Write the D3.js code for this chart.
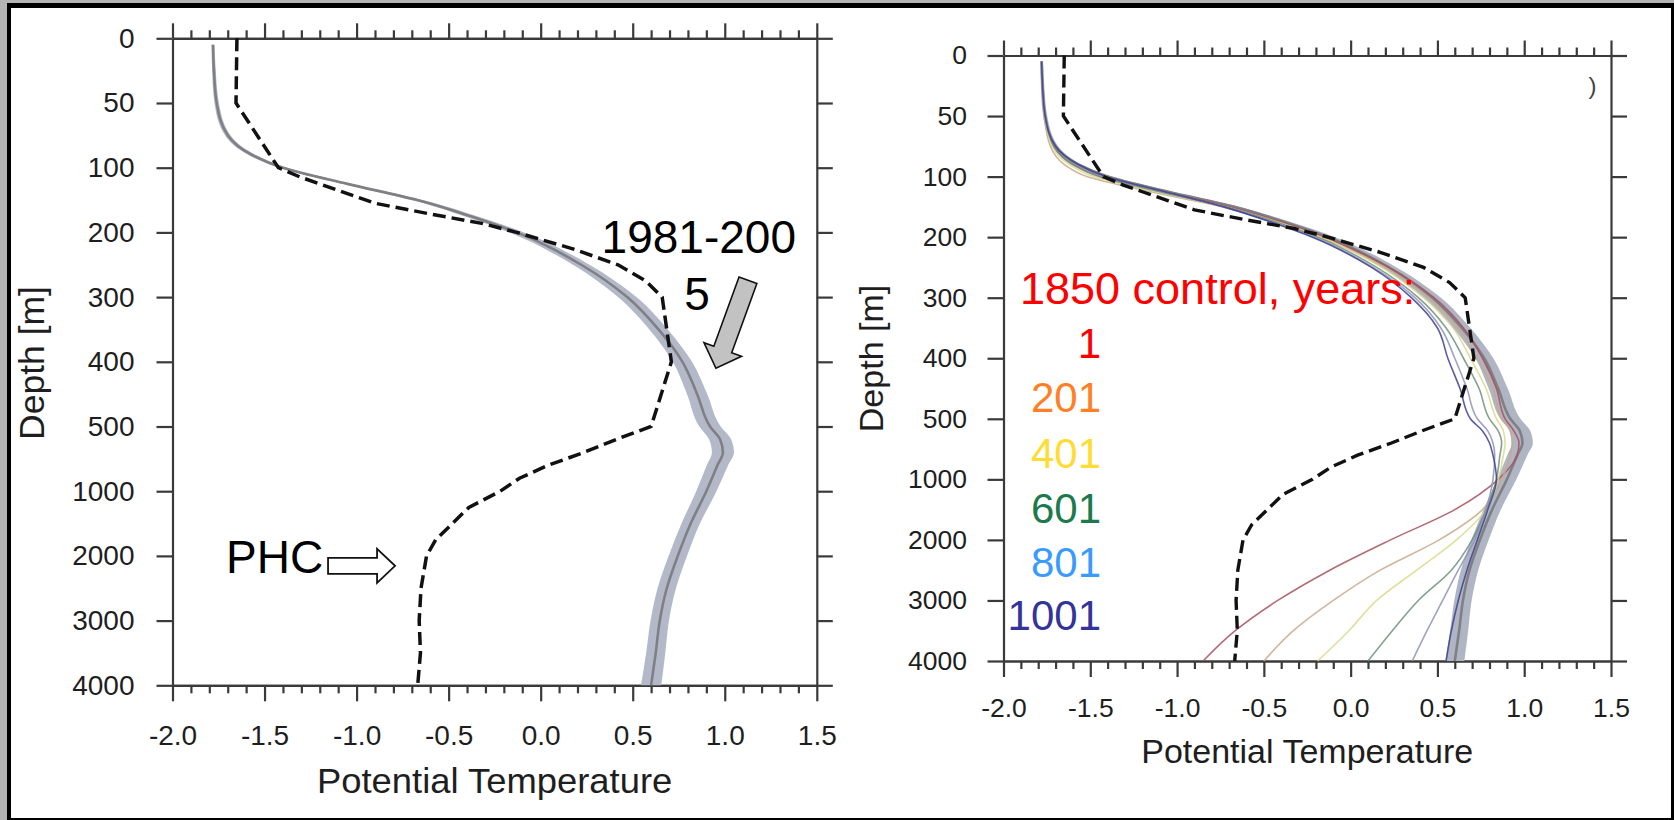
<!DOCTYPE html>
<html>
<head>
<meta charset="utf-8">
<script src="https://cdn.jsdelivr.net/npm/d3@7"></script>
<style>
    body { margin: 0; background: #fff; overflow: hidden; }
    svg { display: block; font-family: "Liberation Sans", Arial, Helvetica, sans-serif; }
</style>
</head>
<body>
<div id="chart"></div>
<script>
// set the size of svg
const width = 1674; const height = 820;

// axis ticks (depth axis is stretched: every tick gets the same room)
const depthTicks = [0, 50, 100, 200, 300, 400, 500, 1000, 2000, 3000, 4000];
const tempTicks = [-2.0, -1.5, -1.0, -0.5, 0.0, 0.5, 1.0, 1.5];

// PHC climatology (dashed)
const phcDepth = [0, 50, 100, 114, 125, 140, 155, 171, 186, 200, 225, 250, 275, 300, 350, 400,
    500, 600, 700, 800, 900, 1000, 1250, 1500, 1750, 2000, 2500, 3000, 3500, 4000];
const phcTemp = [-1.65, -1.655, -1.425, -1.31, -1.20, -1.05, -0.90, -0.61, -0.32, -0.13, 0.17, 0.42, 0.57, 0.66, 0.685, 0.71,
    0.60, 0.41, 0.235, 0.04, -0.115, -0.22, -0.39, -0.48, -0.57, -0.62, -0.65, -0.66, -0.653, -0.668];

// model levels
const modelDepth = [5, 25, 50, 75, 90, 100, 125, 150, 175, 200, 250, 300, 350, 400, 450, 500,
    600, 700, 800, 1000, 1500, 2000, 2500, 3000, 3500, 4000];
// 1981-2005 ensemble mean and its spread (grey band)
const meanTemp = [-1.78, -1.775, -1.76, -1.70, -1.57, -1.40, -1.05, -0.67, -0.38, -0.13, 0.22, 0.47, 0.64, 0.77, 0.85, 0.92,
    0.975, 0.99, 0.96, 0.90, 0.815, 0.745, 0.685, 0.647, 0.625, 0.60];
const meanSpread = [0.008, 0.01, 0.012, 0.015, 0.02, 0.022, 0.025, 0.03, 0.035, 0.04, 0.045, 0.05, 0.05, 0.052, 0.055, 0.058,
    0.06, 0.06, 0.058, 0.055, 0.05, 0.05, 0.05, 0.05, 0.052, 0.055];

// 1850 control run, selected years
const controlYears = ['1', '201', '401', '601', '801', '1001'];
const control1 = [-1.78, -1.775, -1.76, -1.71, -1.60, -1.44, -1.08, -0.70, -0.40, -0.15, 0.22, 0.48, 0.65, 0.76, 0.84, 0.89,
    0.94, 0.97, 0.96, 0.85, 0.60, 0.23, -0.12, -0.42, -0.665, -0.85];
const control201 = [-1.78, -1.775, -1.765, -1.73, -1.65, -1.52, -1.15, -0.74, -0.43, -0.18, 0.20, 0.45, 0.62, 0.73, 0.82, 0.87,
    0.92, 0.93, 0.92, 0.87, 0.76, 0.51, 0.17, -0.10, -0.33, -0.50];
const control401 = [-1.78, -1.775, -1.76, -1.72, -1.62, -1.48, -1.12, -0.72, -0.42, -0.17, 0.18, 0.42, 0.59, 0.69, 0.78, 0.84,
    0.88, 0.89, 0.88, 0.85, 0.78, 0.61, 0.38, 0.15, -0.01, -0.19];
const control601 = [-1.78, -1.775, -1.76, -1.71, -1.60, -1.45, -1.10, -0.72, -0.43, -0.19, 0.15, 0.39, 0.55, 0.65, 0.74, 0.80,
    0.85, 0.87, 0.86, 0.84, 0.78, 0.70, 0.58, 0.39, 0.24, 0.10];
const control801 = [-1.78, -1.775, -1.76, -1.70, -1.58, -1.42, -1.08, -0.73, -0.45, -0.21, 0.13, 0.37, 0.52, 0.60, 0.67, 0.73,
    0.79, 0.82, 0.83, 0.82, 0.78, 0.715, 0.62, 0.53, 0.44, 0.355];
const control1001 = [-1.78, -1.775, -1.76, -1.70, -1.57, -1.41, -1.07, -0.73, -0.46, -0.22, 0.12, 0.35, 0.50, 0.56, 0.63, 0.69,
    0.76, 0.80, 0.82, 0.84, 0.79, 0.73, 0.67, 0.62, 0.58, 0.55];
const controlTemps = [control1, control201, control401, control601, control801, control1001];

// colours
const lineColor = ['#a8505e', '#c9a88c', '#d9d98e', '#6f917c', '#8f93b5', '#3d4190'];
const labelColor = ['#ff0000', '#ff7f27', '#ffdc34', '#1d7a4c', '#3a9bff', '#333399'];
const axisColor = '#3a3a3a';

let svg = d3.select('#chart')
    .append('svg')
        .attr('width', width)
        .attr('height', height);

// slide frame
svg.append('rect').attr('width', width).attr('height', height).attr('fill', '#b4b4b4');
svg.append('rect').attr('x', 7).attr('y', 3).attr('width', width - 7).attr('height', height - 3).attr('fill', '#000');
svg.append('rect').attr('x', 11).attr('y', 8).attr('width', width - 14).attr('height', height - 10).attr('fill', '#fff');

const panels = [
    {left: 172.5, right: 816.8, top: 38.3, bottom: 685.3, tickFont: 28, yGap: 38, xLabelY: 60,
     titleFont: 35, sx: 1.04, xTitleY: 793, yTitleFont: 35.5, yTitleX: 44, yTitleY: 363, dash: 3.5},
    {left: 1003.5, right: 1611, top: 55.5, bottom: 661, tickFont: 26.5, yGap: 36.5, xLabelY: 56,
     titleFont: 34, sx: 1.0, xTitleY: 763, yTitleFont: 34, yTitleX: 883, yTitleY: 358.5, dash: 3.4}
];

function styleAxis(g) {
    g.selectAll('path, line').attr('stroke', axisColor).attr('stroke-width', 2.2);
    g.selectAll('text').attr('fill', '#1e1e1e');
}

function drawPanel(p) {
    const g = svg.append('g');
    const x = d3.scaleLinear().domain([-2, 1.5]).range([p.left, p.right]);
    const step = (p.bottom - p.top) / (depthTicks.length - 1);
    const y = d3.scaleLinear()
        .domain(depthTicks)
        .range(depthTicks.map((d, i) => p.top + i * step));
    const minor = d3.range(-20, 16).map(d => d / 10).filter(d => Math.abs(d * 2 - Math.round(d * 2)) > 1e-6);

    // top and bottom axes, major + minor ticks pointing out
    g.append('g').attr('transform', `translate(0,${p.top})`)
        .call(d3.axisTop(x).tickValues(tempTicks).tickSize(15).tickSizeOuter(0).tickFormat(''))
        .call(styleAxis);
    g.append('g').attr('transform', `translate(0,${p.top})`)
        .call(d3.axisTop(x).tickValues(minor).tickSize(8).tickSizeOuter(0).tickFormat(''))
        .call(styleAxis);
    const xb = g.append('g').attr('transform', `translate(0,${p.bottom})`)
        .call(d3.axisBottom(x).tickValues(tempTicks).tickSize(16).tickSizeOuter(0).tickFormat(d => d.toFixed(1)))
        .call(styleAxis);
    xb.selectAll('.tick text')
        .attr('y', p.xLabelY).attr('dy', 0)
        .attr('font-size', p.tickFont);
    g.append('g').attr('transform', `translate(0,${p.bottom})`)
        .call(d3.axisBottom(x).tickValues(minor).tickSize(8).tickSizeOuter(0).tickFormat(''))
        .call(styleAxis);

    // depth axes
    const yl = g.append('g').attr('transform', `translate(${p.left},0)`)
        .call(d3.axisLeft(y).tickValues(depthTicks).tickSize(16).tickSizeOuter(0).tickFormat(d => String(d)))
        .call(styleAxis);
    yl.selectAll('.tick text')
        .attr('x', -p.yGap)
        .attr('font-size', p.tickFont);
    g.append('g').attr('transform', `translate(${p.right},0)`)
        .call(d3.axisRight(y).tickValues(depthTicks).tickSize(16).tickSizeOuter(0).tickFormat(''))
        .call(styleAxis);

    // axis titles
    g.append('text')
        .attr('transform', `translate(${(p.left + p.right) / 2},${p.xTitleY}) scale(${p.sx},1)`)
        .attr('text-anchor', 'middle')
        .attr('font-size', p.titleFont)
        .attr('fill', '#1e1e1e')
        .text('Potential Temperature');
    g.append('text')
        .attr('transform', `translate(${p.yTitleX},${p.yTitleY}) rotate(-90)`)
        .attr('text-anchor', 'middle')
        .attr('font-size', p.yTitleFont)
        .attr('fill', '#1e1e1e')
        .text('Depth [m]');

    return {g: g, x: x, y: y};
}

function drawMean(g, x, y, bandColor) {
    const idx = d3.range(modelDepth.length);
    const band = d3.area()
        .curve(d3.curveMonotoneY)
        .y(i => y(modelDepth[i]))
        .x0(i => x(meanTemp[i] - meanSpread[i]))
        .x1(i => x(meanTemp[i] + meanSpread[i]));
    g.append('path').datum(idx)
        .attr('d', band)
        .attr('fill', bandColor);
    const line = d3.line()
        .curve(d3.curveMonotoneY)
        .x(i => x(meanTemp[i]))
        .y(i => y(modelDepth[i]));
    g.append('path').datum(idx)
        .attr('d', line)
        .attr('fill', 'none')
        .attr('stroke', '#808084')
        .attr('stroke-width', 2.6);
}

function drawPhc(g, x, y, w) {
    const line = d3.line()
        .x(i => x(phcTemp[i]))
        .y(i => y(phcDepth[i]));
    g.append('path').datum(d3.range(phcDepth.length))
        .attr('d', line)
        .attr('fill', 'none')
        .attr('stroke', '#111')
        .attr('stroke-width', w)
        .attr('stroke-dasharray', '13,6');
}

// block arrow polygon from tail to tip
function blockArrow(tail, tip, shaft, head, headLen) {
    const dx = tip[0] - tail[0], dy = tip[1] - tail[1];
    const len = Math.hypot(dx, dy);
    const ux = dx / len, uy = dy / len;
    const px = -uy, py = ux;
    const bx = tip[0] - ux * headLen, by = tip[1] - uy * headLen;
    return [
        [tail[0] + px * shaft, tail[1] + py * shaft],
        [bx + px * shaft, by + py * shaft],
        [bx + px * head, by + py * head],
        tip,
        [bx - px * head, by - py * head],
        [bx - px * shaft, by - py * shaft],
        [tail[0] - px * shaft, tail[1] - py * shaft]
    ];
}

// ---------- left panel ----------
const L = drawPanel(panels[0]);
drawMean(L.g, L.x, L.y, '#b3b9c8');
drawPhc(L.g, L.x, L.y, panels[0].dash);

L.g.append('text')
    .attr('x', L.x(0.331)).attr('y', L.y(232))
    .attr('font-size', 46).attr('fill', '#000')
    .text('1981-200');
L.g.append('text')
    .attr('x', L.x(0.849)).attr('y', L.y(320))
    .attr('text-anchor', 'middle')
    .attr('font-size', 46).attr('fill', '#000')
    .text('5');
L.g.append('polygon')
    .attr('points', blockArrow([L.x(1.126), L.y(274)], [L.x(0.952), L.y(410)], 9.5, 20, 20).join(' '))
    .attr('fill', '#c2c2c2')
    .attr('stroke', '#111')
    .attr('stroke-width', 1.6);

L.g.append('text')
    .attr('x', L.x(-1.709)).attr('y', L.y(2261))
    .attr('font-size', 46).attr('fill', '#000')
    .text('PHC');
L.g.append('polygon')
    .attr('points', blockArrow([L.x(-1.155), L.y(2153)], [L.x(-0.791), L.y(2153)], 8, 17, 18).join(' '))
    .attr('fill', '#fff')
    .attr('stroke', '#111')
    .attr('stroke-width', 1.8);

// ---------- right panel ----------
const R = drawPanel(panels[1]);
drawMean(R.g, R.x, R.y, '#b0b5c3');

const thinLine = d3.line()
    .curve(d3.curveMonotoneY)
    .x(d => R.x(d[0]))
    .y(d => R.y(d[1]));
R.g.selectAll('.control')
    .data(controlTemps)
    .enter()
    .append('path')
        .attr('class', 'control')
        .attr('d', t => thinLine(t.map((v, i) => [v, modelDepth[i]])))
        .attr('fill', 'none')
        .attr('stroke', (t, i) => lineColor[i])
        .attr('stroke-width', 1.6)
        .attr('opacity', 0.85);
drawPhc(R.g, R.x, R.y, panels[1].dash);

// legend written inside the plot
R.g.append('text')
    .attr('x', R.x(-1.905)).attr('y', R.y(310))
    .attr('font-size', 45).attr('fill', labelColor[0])
    .text('1850 control, years:');
const labelDepth = [399, 488, 905, 1719, 2612, 3488];
R.g.selectAll('.yearLabel')
    .data(controlYears)
    .enter()
    .append('text')
        .attr('class', 'yearLabel')
        .attr('x', R.x(-1.438))
        .attr('y', (d, i) => R.y(labelDepth[i]))
        .attr('text-anchor', 'end')
        .attr('font-size', 42)
        .attr('fill', (d, i) => labelColor[i])
        .text(d => d);

// stray mark left over from the cropped original
R.g.append('text')
    .attr('x', R.x(1.37)).attr('y', R.y(32))
    .attr('font-size', 24).attr('fill', '#444')
    .text(')');
</script>
</body>
</html>
